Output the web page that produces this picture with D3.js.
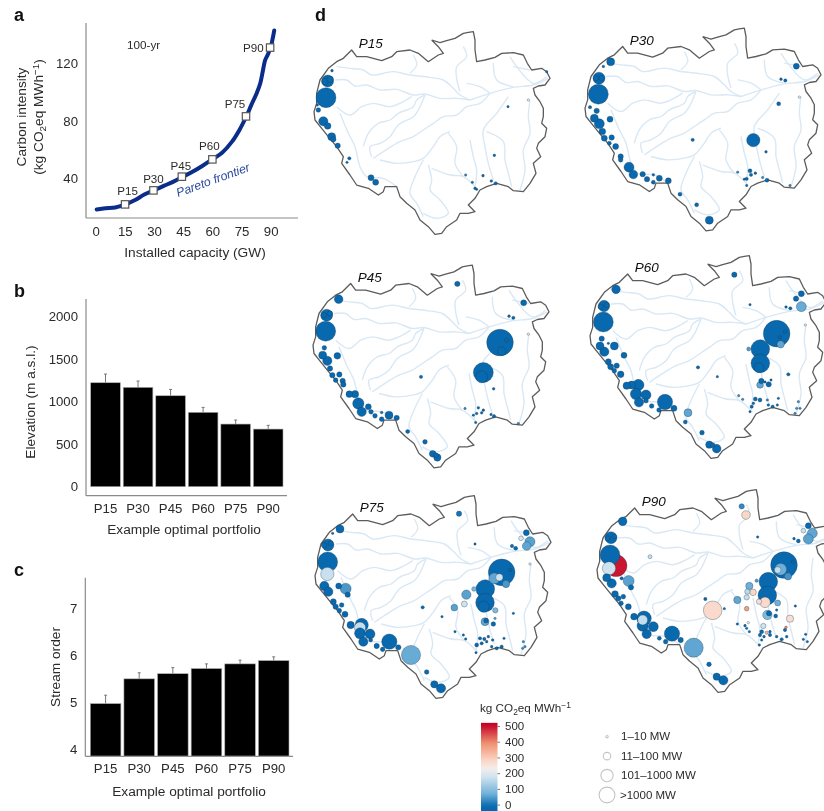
<!DOCTYPE html>
<html>
<head>
<meta charset="utf-8">
<script src="https://cdn.jsdelivr.net/npm/d3@7"></script>
<style>
  body { margin: 0; background: #fff; }
  svg { display: block; font-family: "Liberation Sans", Arial, sans-serif; fill: #2b2b2b; filter: blur(0.45px); }
  .domain { stroke: #8a8a8a; stroke-width: 1.2; }
  .tick text { font-size: 13.2px; fill: #2b2b2b; }
</style>
</head>
<body>
<div id="chart"></div>
<script>
// Panel a: Pareto frontier
const paretoGw = [0.5, 5, 10, 15, 20, 25, 30, 35, 40, 45, 50, 55, 60, 65, 70, 74, 77.5, 80, 83, 84.6, 86, 87.1, 88.5, 90, 91, 91.8];
const paretoCi = [18.7, 19.5, 20, 22, 25, 29, 32, 35, 38, 41.5, 45, 49, 53.5, 58, 65.5, 74, 83.3, 91, 100, 106, 115, 122, 126, 131, 137, 142.7];
const portfolios = ["P15", "P30", "P45", "P60", "P75", "P90"];
const portfolioGw = [15.1, 29.7, 44.3, 60, 77.3, 89.7];
const portfolioCi = [22.2, 31.9, 41.4, 53.4, 83.2, 130.9];

// Panel b and c: means with upper error
const elevation = [1223, 1169, 1070, 875, 737, 678];
const elevationErr = [1325, 1243, 1145, 933, 784, 722];
const streamOrder = [4.97, 5.50, 5.61, 5.72, 5.82, 5.89];
const streamOrderErr = [5.15, 5.63, 5.74, 5.82, 5.90, 5.97];

// Legend
const carbonTicks = [0, 100, 200, 300, 400, 500];
const sizeLabels = ["1–10 MW", "11–100 MW", "101–1000 MW", ">1000 MW"];
const sizeLegendMw = [6, 180, 800, 1700];

// Panel d: basin outline and rivers, in map units
const basinOutline = [[395,120],[420,128],[440,122],[465,115],[490,100],[505,97],[520,95],[525,120],[525,150],[530,185],[555,180],[585,172],[605,160],[640,158],[670,165],[682,190],[695,210],[725,205],[740,215],[750,235],[735,255],[715,258],[700,265],[705,285],[720,305],[730,325],[730,350],[725,370],[740,385],[735,410],[715,430],[710,445],[722,470],[700,490],[708,520],[690,550],[670,575],[640,572],[625,560],[590,550],[560,560],[540,570],[525,595],[505,615],[525,635],[505,640],[480,640],[470,660],[440,680],[425,700],[405,703],[385,680],[360,660],[345,630],[320,610],[300,590],[290,560],[255,560],[250,575],[235,585],[205,565],[170,555],[150,525],[125,490],[130,470],[110,440],[85,410],[65,385],[45,360],[42,335],[50,310],[50,280],[60,240],[85,205],[110,185],[130,175],[155,150],[170,170],[200,170],[245,182],[275,170],[290,155],[330,150],[355,160],[385,185],[415,165],[430,160],[415,140],[395,120]];
const rivers = [
  [[110,200],[150,205],[190,210],[215,225],[280,215],[330,225],[390,232],[430,240],[460,265],[480,285],[510,300]],
  [[105,240],[140,240],[165,258],[200,255],[240,270],[290,268],[340,285],[375,282],[420,295],[470,295],[510,300]],
  [[510,300],[570,280],[640,262],[700,255],[745,235]],
  [[570,280],[540,310],[500,320],[470,345],[430,350],[400,370],[370,390],[340,410],[300,425],[265,445],[220,475]],
  [[375,285],[350,300],[340,320],[295,340],[270,360],[235,370],[205,400],[190,440]],
  [[375,285],[355,330],[340,350],[295,375],[270,410],[240,430],[210,440],[215,470]],
  [[110,320],[150,345],[185,320],[220,310],[270,320],[310,305],[335,290]],
  [[120,340],[145,400],[165,440],[180,500],[200,530],[250,535],[290,560]],
  [[240,480],[290,490],[340,485],[370,475],[400,440],[420,410],[450,395]],
  [[370,480],[345,530],[330,580],[350,610],[370,650]],
  [[385,495],[395,540],[390,570],[420,600],[445,640],[410,655],[370,640]],
  [[395,505],[450,525],[490,530],[530,565]],
  [[445,400],[470,440],[465,490],[490,530]],
  [[510,420],[520,470],[530,510],[525,560]],
  [[625,290],[590,340],[550,390],[555,440],[565,490],[580,540]],
  [[560,395],[610,425],[615,480],[625,520],[635,560]],
  [[690,300],[685,350],[690,400],[670,450],[675,510],[660,570]],
  [[490,140],[500,170],[470,200],[470,235],[480,275]],
  [[340,165],[350,195],[330,220]],
  [[630,170],[650,200],[700,250],[740,230]],
  [[580,190],[590,240],[640,260]],
  [[500,250],[540,260],[570,280]],
  [[640,200],[690,210]]
];

// dams: [x, y, capacity MW, carbon intensity]
const damsP15 = [[78,293,3400,15],[83,243,735,15],[75,245,126,15],[90,238,126,15],[70,364,345,15],[83,378,126,15],[95,410,218,15],[100,418,65,15],[113,437,65,15],[148,475,16,15],[141,487,1,15],[213,533,92,15],[227,547,92,15],[55,330,43,15],[52,315,3,15],[96,212,8,15],[624,320,5,15],[583,466,8,15],[497,525,3,60],[549,527,8,30],[517,547,3,30],[574,543,8,15],[587,550,16,15],[525,565,8,15],[530,568,3,15],[740,215,1,15],[685,300,1,250]];
const damsP30 = [[82,293,3400,15],[84,245,735,15],[75,245,65,15],[92,245,65,15],[119,196,218,15],[97,210,8,15],[57,332,16,15],[77,343,65,15],[117,368,92,15],[70,365,218,15],[85,382,425,15],[94,405,126,15],[100,425,92,15],[122,423,65,15],[115,440,27,15],[134,450,92,15],[149,480,65,15],[149,490,43,15],[174,512,425,15],[187,534,276,15],[215,533,65,15],[228,548,65,15],[247,535,8,15],[247,557,27,15],[265,545,92,15],[292,553,92,15],[327,593,27,15],[377,625,27,15],[415,671,218,15],[365,430,16,15],[547,431,1008,15],[585,466,8,15],[623,322,27,15],[630,248,8,15],[643,252,16,15],[676,209,92,15],[537,523,27,15],[553,530,8,15],[500,527,3,60],[540,535,16,15],[527,547,16,15],[520,548,3,15],[527,567,3,15],[588,551,27,15],[575,543,3,60],[657,567,2,60],[685,302,1,250]];
const damsP45 = [[80,293,3400,15],[83,245,735,15],[75,245,65,15],[93,240,65,15],[119,197,276,15],[76,343,43,15],[71,365,218,15],[85,382,345,15],[115,367,126,15],[93,405,65,15],[100,425,65,15],[121,423,65,15],[110,440,43,15],[131,442,65,15],[133,453,65,15],[151,482,126,15],[168,482,168,15],[178,510,620,15],[188,535,345,15],[208,520,92,15],[216,535,43,15],[228,547,43,15],[248,537,8,15],[248,557,43,15],[270,545,218,15],[293,553,65,15],[326,594,27,15],[378,625,43,15],[401,661,126,15],[415,672,168,15],[411,665,43,15],[366,430,16,15],[475,151,65,15],[674,208,92,15],[630,248,8,15],[643,253,16,15],[603,327,8064,15],[608,353,276,15],[623,320,27,15],[553,417,3400,15],[548,430,735,15],[584,466,8,15],[538,523,8,15],[553,530,8,15],[548,538,8,15],[533,540,8,15],[523,545,3,15],[530,567,3,15],[498,525,2,60],[576,543,3,30],[585,548,16,15],[658,570,2,60],[688,302,1,250]];
const damsP60 = [[82,294,3400,15],[84,246,620,15],[74,248,65,15],[92,243,65,15],[120,196,276,15],[77,344,65,15],[72,366,218,15],[85,383,345,15],[115,366,218,15],[144,394,92,15],[97,413,92,15],[104,428,92,15],[122,425,65,15],[115,440,43,15],[134,451,126,15],[97,358,3,15],[152,485,168,15],[167,483,218,15],[187,483,620,15],[180,510,620,15],[210,513,425,15],[189,535,345,15],[210,530,43,15],[227,546,43,15],[249,558,43,15],[267,534,1530,15],[294,553,92,15],[336,566,218,90],[328,594,27,30],[378,626,43,15],[400,662,168,15],[422,674,276,15],[410,663,43,15],[366,430,16,15],[475,152,65,15],[676,209,92,15],[660,224,65,15],[676,248,425,95],[630,249,8,15],[643,253,16,15],[522,242,3,30],[602,329,8064,15],[614,361,168,90],[627,323,16,15],[612,340,16,15],[553,375,2766,15],[553,418,2766,15],[549,431,425,15],[518,375,27,80],[556,471,65,15],[552,483,126,90],[578,481,65,15],[585,468,3,15],[567,474,3,15],[424,458,3,15],[637,451,16,15],[488,515,3,60],[500,526,3,60],[538,525,27,15],[552,528,27,15],[532,538,8,15],[527,548,16,15],[522,563,3,15],[577,543,8,30],[590,548,16,15],[604,543,3,30],[607,523,3,30],[574,528,2,60],[667,533,2,60],[662,553,2,60],[672,553,2,60],[657,568,2,60],[688,303,1,250]];
const damsP75 = [[80,294,3400,15],[81,243,735,15],[69,243,65,15],[89,238,43,15],[117,195,218,15],[95,208,3,15],[79,330,1008,195],[70,366,345,15],[82,383,345,15],[113,366,92,15],[134,374,560,75],[140,392,65,15],[97,413,92,15],[104,428,65,15],[122,423,43,15],[115,440,43,15],[132,451,92,15],[149,483,168,15],[182,483,1008,15],[177,491,620,190],[177,508,560,15],[207,510,425,15],[187,533,345,15],[209,528,27,15],[227,546,65,15],[245,556,43,15],[265,533,1530,15],[292,550,65,15],[330,573,3000,95],[377,624,43,15],[400,661,168,15],[420,673,345,15],[365,430,16,15],[423,458,3,30],[462,503,3,30],[474,149,65,40],[676,206,92,15],[660,223,43,220],[687,233,425,85],[677,246,276,90],[633,246,16,30],[644,253,27,30],[522,240,3,15],[602,325,8064,15],[580,343,560,90],[615,360,168,75],[595,340,168,200],[627,318,16,15],[553,375,2766,15],[552,416,2766,15],[548,428,620,15],[496,392,345,85],[519,375,43,120],[490,420,92,200],[460,431,126,85],[583,439,65,120],[552,473,218,90],[555,470,43,15],[577,480,43,15],[582,463,3,80],[637,448,3,15],[487,513,3,15],[494,525,3,15],[537,523,16,15],[550,525,16,15],[562,518,8,15],[575,528,8,15],[527,543,27,15],[542,538,16,15],[557,533,8,15],[572,548,8,15],[587,553,16,15],[602,548,16,15],[609,523,3,15],[525,566,3,15],[667,533,2,60],[665,553,2,60],[672,548,2,60],[687,300,1,250]];
const damsP90 = [[81,291,3400,15],[84,239,735,15],[74,241,65,15],[94,236,43,15],[119,190,276,15],[99,323,4500,495],[78,331,1008,200],[201,296,27,190],[137,369,560,85],[71,359,218,15],[86,376,345,15],[116,361,16,15],[144,388,65,15],[96,408,126,15],[106,421,65,15],[121,416,43,15],[114,436,43,15],[136,446,92,15],[153,476,126,15],[183,481,1340,15],[179,486,425,190],[179,503,620,15],[211,506,425,15],[191,528,345,15],[229,541,27,15],[248,551,43,15],[267,527,1530,15],[293,546,65,15],[332,569,3000,90],[378,619,43,15],[401,656,168,15],[421,667,345,15],[389,457,2766,290],[424,452,3,30],[367,423,16,15],[476,145,65,60],[489,171,276,295],[676,203,92,15],[661,218,43,200],[688,226,425,90],[676,243,425,85],[633,242,8,30],[646,249,27,30],[524,237,3,30],[603,321,8064,15],[593,334,735,100],[584,336,126,190],[615,355,168,70],[629,311,16,15],[556,371,2766,15],[553,412,2766,15],[546,433,510,290],[528,431,65,280],[521,368,16,80],[499,384,168,100],[510,403,126,295],[493,401,65,180],[491,418,65,190],[463,426,168,90],[584,435,92,100],[491,452,43,380],[553,471,345,120],[558,466,65,15],[578,474,27,15],[581,456,3,30],[621,482,168,285],[637,444,3,15],[668,529,3,15],[541,504,65,200],[536,521,27,15],[551,524,16,350],[561,531,16,15],[531,531,16,15],[543,536,8,15],[561,521,8,30],[609,508,8,400],[606,516,16,15],[581,536,8,15],[596,544,16,15],[611,536,8,15],[529,561,2,30],[536,546,3,15],[463,498,3,30],[486,503,8,15],[496,494,3,250],[491,511,3,30],[499,521,3,15],[661,544,3,15],[673,551,3,15]];
const damsByPortfolio = [damsP15, damsP30, damsP45, damsP60, damsP75, damsP90];

const width = 824;
const height = 811;
const svg = d3.select("#chart").append("svg").attr("width", width).attr("height", height);

const ink = "#2b2b2b";
const titleSize = "13.7px";

function panelLetter(letter, x, y) {
    svg.append("text").attr("x", x).attr("y", y).text(letter)
        .attr("font-size", "18px").attr("font-weight", "bold").attr("fill", "#111");
}

function addUnitTspans(sel) {
    sel.append("tspan").text("kg CO");
    sel.append("tspan").text("2").attr("dy", 2.5).attr("font-size", "0.72em");
    sel.append("tspan").text("eq MWh").attr("dy", -2.5);
    sel.append("tspan").text("−1").attr("dy", -4).attr("font-size", "0.72em");
}

function styleAxis(g) {
    g.selectAll(".tick line").remove();
}

// ---- a ----
const xA = d3.scaleLinear().domain([0, 90]).range([95.7, 270.7]);
const yA = d3.scaleLinear().domain([40, 120]).range([178.7, 63.3]);

svg.append("g").attr("transform", "translate(0,218)")
    .call(d3.axisBottom(xA).tickValues([0, 15, 30, 45, 60, 75, 90]).tickSize(0).tickPadding(9).tickSizeOuter(0))
    .call(styleAxis)
    .select(".domain").attr("d", "M86,0H298");
svg.append("g").attr("transform", "translate(86,0)")
    .call(d3.axisLeft(yA).tickValues([40, 80, 120]).tickSize(0).tickPadding(8).tickSizeOuter(0))
    .call(styleAxis)
    .select(".domain").attr("d", "M0,23V218");

const paretoLine = d3.line().x(d => xA(d[0])).y(d => yA(d[1])).curve(d3.curveCatmullRom);
svg.append("path")
    .attr("d", paretoLine(d3.zip(paretoGw, paretoCi)))
    .attr("fill", "none").attr("stroke", "#0a2d8c").attr("stroke-width", 4).attr("stroke-linecap", "round");

const labelOffsets = [[2.5, -9], [0, -7.4], [-1, -6.7], [-3, -9], [-11, -8], [-6.5, 4.5]];
const paretoPts = d3.zip(portfolioGw, portfolioCi);
svg.selectAll("rect.pt").data(paretoPts).enter().append("rect").attr("class", "pt")
    .attr("x", d => xA(d[0]) - 3.7).attr("y", d => yA(d[1]) - 3.7)
    .attr("width", 7.4).attr("height", 7.4)
    .attr("fill", "#fff").attr("stroke", "#555").attr("stroke-width", 1.2);
svg.selectAll("text.pt").data(paretoPts).enter().append("text").attr("class", "pt")
    .attr("x", (d, i) => xA(d[0]) + labelOffsets[i][0])
    .attr("y", (d, i) => yA(d[1]) + labelOffsets[i][1])
    .attr("text-anchor", (d, i) => i == 5 ? "end" : "middle")
    .attr("font-size", "11.6px").attr("fill", ink)
    .text((d, i) => portfolios[i]);

svg.append("text").attr("x", 127).attr("y", 49).attr("font-size", "11.7px").attr("fill", ink).text("100-yr");
svg.append("text").attr("transform", "translate(178,197) rotate(-20)")
    .attr("font-size", "12.2px").attr("font-style", "italic").attr("fill", "#2a4a9c").text("Pareto frontier");
svg.append("text").attr("x", 195).attr("y", 257).attr("text-anchor", "middle").attr("font-size", titleSize).attr("fill", ink).text("Installed capacity (GW)");

const yTitleA = svg.append("text").attr("transform", "translate(26,117) rotate(-90)")
    .attr("text-anchor", "middle").attr("font-size", titleSize).attr("fill", ink);
yTitleA.append("tspan").attr("x", 0).attr("y", 0).text("Carbon intensity");
const yTitleA2 = yTitleA.append("tspan").attr("x", 0).attr("y", 17);
yTitleA2.append("tspan").text("(");
addUnitTspans(yTitleA2);
yTitleA2.append("tspan").text(")").attr("dy", 4);

panelLetter("a", 14, 20.5);

// ---- b and c ----
function barPanel(opts) {
    const x = d3.scaleBand().domain(portfolios).range(opts.xRange).paddingInner(0.09).paddingOuter(0);
    const y = d3.scaleLinear().domain(opts.yDomain).range(opts.yRange);

    svg.append("g").attr("transform", `translate(0,${opts.axisY})`)
        .call(d3.axisBottom(x).tickSize(0).tickPadding(opts.xPad).tickSizeOuter(0))
        .call(styleAxis)
        .select(".domain").attr("d", `M${opts.axisX},0H${opts.axisRight}`);
    svg.append("g").attr("transform", `translate(${opts.axisX},0)`)
        .call(d3.axisLeft(y).tickValues(opts.ticks).tickFormat(d3.format("d")).tickSize(0).tickPadding(8).tickSizeOuter(0))
        .call(styleAxis)
        .select(".domain").attr("d", `M0,${opts.axisTop}V${opts.axisY}`);

    const rows = portfolios.map((p, i) => ({ p, v: opts.values[i], e: opts.errs[i] }));

    svg.append("g").selectAll("path").data(rows).enter().append("path")
        .attr("d", d => {
            const cx = x(d.p) + x.bandwidth() / 2;
            return `M${cx},${y(d.v)}V${y(d.e)}M${cx - 1.5},${y(d.e)}H${cx + 1.5}`;
        })
        .attr("fill", "none").attr("stroke", "#777").attr("stroke-width", 1);

    svg.append("g").selectAll("rect").data(rows).enter().append("rect")
        .attr("x", d => x(d.p)).attr("y", d => y(d.v))
        .attr("width", x.bandwidth()).attr("height", d => opts.baseY - y(d.v))
        .attr("fill", "#000").attr("stroke", "#aaa").attr("stroke-width", 0.6);

    svg.append("text").attr("x", opts.titleX).attr("y", opts.titleY).attr("text-anchor", "middle")
        .attr("font-size", titleSize).attr("fill", ink).text("Example optimal portfolio");
    svg.append("text").attr("transform", `translate(${opts.yTitleX},${opts.yTitleY}) rotate(-90)`)
        .attr("text-anchor", "middle").attr("font-size", titleSize).attr("fill", ink).text(opts.yTitle);
}

barPanel({
    values: elevation, errs: elevationErr, xRange: [90.7, 283], yDomain: [0, 2000], yRange: [486.7, 316.7],
    ticks: [0, 500, 1000, 1500, 2000], axisX: 86, axisY: 495.7, axisTop: 299, axisRight: 287, baseY: 486.7,
    xPad: 8, titleX: 184, titleY: 534, yTitle: "Elevation (m a.s.l.)", yTitleX: 35, yTitleY: 402
});
panelLetter("b", 14, 297);

barPanel({
    values: streamOrder, errs: streamOrderErr, xRange: [90.3, 289], yDomain: [4, 7], yRange: [749, 608.7],
    ticks: [4, 5, 6, 7], axisX: 85.3, axisY: 756.3, axisTop: 577.7, axisRight: 293, baseY: 756,
    xPad: 7, titleX: 189, titleY: 796, yTitle: "Stream order", yTitleX: 60, yTitleY: 667
});
panelLetter("c", 14, 576);

// ---- d ----
panelLetter("d", 315, 20.5);

const carbonColor = d3.scaleLinear()
    .domain([0, 30, 100, 200, 250, 300, 400, 500])
    .range(["#0868ae", "#0a6ab0", "#6fb0d8", "#cfe3ef", "#f3eeec", "#fbd5c4", "#ee9070", "#c8102e"]);
const radius = d3.scalePow().exponent(1 / 3).domain([0, 8064]).range([0, 13.3]);

// map units are 3 to a pixel
const mapX = d3.scaleLinear().domain([0, 810]).range([0, 270]);
const mapY = d3.scaleLinear().domain([0, 810]).range([0, 270]);
const mapPanels = [[300, 0], [571, -3.5], [299, 233.5], [576, 224], [301, 464], [583, 458]];

const outlineLine = d3.line().x(d => mapX(d[0])).y(d => mapY(d[1])).curve(d3.curveLinear);
const riverLine = d3.line().x(d => mapX(d[0])).y(d => mapY(d[1])).curve(d3.curveCatmullRom);

portfolios.forEach((name, i) => {
    const g = svg.append("g").attr("transform", `translate(${mapPanels[i][0]},${mapPanels[i][1]})`);

    g.selectAll("path.river").data(rivers).enter().append("path").attr("class", "river")
        .attr("d", riverLine)
        .attr("fill", "none").attr("stroke", "#d9e8f5").attr("stroke-width", 1.4);

    g.append("path").attr("d", outlineLine(basinOutline))
        .attr("fill", "none").attr("stroke", "#5c5c5c").attr("stroke-width", 1.3).attr("stroke-linejoin", "round");

    const dams = damsByPortfolio[i].slice().sort((a, b) => b[2] - a[2]);
    g.selectAll("circle").data(dams).enter().append("circle")
        .attr("cx", d => mapX(d[0])).attr("cy", d => mapY(d[1]))
        .attr("r", d => Math.max(1.2, radius(d[2])))
        .attr("fill", d => carbonColor(d[3]))
        .attr("stroke", "#14384f").attr("stroke-opacity", 0.55).attr("stroke-width", 0.6);

    g.append("text").attr("x", mapX(176)).attr("y", mapY(145))
        .attr("font-size", "13.5px").attr("font-style", "italic").attr("fill", "#111").text(name);
});

// ---- legends ----
const legendTitle = svg.append("text").attr("x", 480).attr("y", 712).attr("font-size", "11.7px").attr("fill", ink);
addUnitTspans(legendTitle);

const yLegend = d3.scaleLinear().domain([0, 500]).range([804.6, 726]);
const defs = svg.append("defs");
const grad = defs.append("linearGradient").attr("id", "carbonGrad")
    .attr("x1", 0).attr("x2", 0).attr("y1", 1).attr("y2", 0);
d3.range(0, 521, 20).forEach(v => {
    grad.append("stop").attr("offset", v / 520).attr("stop-color", carbonColor(v));
});
svg.append("rect").attr("x", 481).attr("y", yLegend(520)).attr("width", 16.5).attr("height", 811 - yLegend(520))
    .attr("fill", "url(#carbonGrad)");
svg.append("g").attr("transform", "translate(497.5,0)")
    .call(d3.axisRight(yLegend).tickValues(carbonTicks).tickSize(2.5).tickPadding(5))
    .call(g => g.select(".domain").remove())
    .call(g => g.selectAll(".tick line").attr("stroke", "#777"))
    .call(g => g.selectAll(".tick text").style("font-size", "11.5px"));

const sizeY = d3.scalePoint().domain(sizeLabels).range([736.7, 795]);
svg.selectAll("circle.size").data(sizeLabels).enter().append("circle").attr("class", "size")
    .attr("cx", 607).attr("cy", d => sizeY(d))
    .attr("r", (d, i) => radius(sizeLegendMw[i]))
    .attr("fill", "#fff").attr("stroke", "#c4c4c4").attr("stroke-width", 1.1);
svg.selectAll("text.size").data(sizeLabels).enter().append("text").attr("class", "size")
    .attr("x", (d, i) => i == 3 ? 620 : 621).attr("y", d => sizeY(d) + 3.5)
    .attr("font-size", "11.5px").attr("fill", ink).text(d => d);
</script>
</body>
</html>
